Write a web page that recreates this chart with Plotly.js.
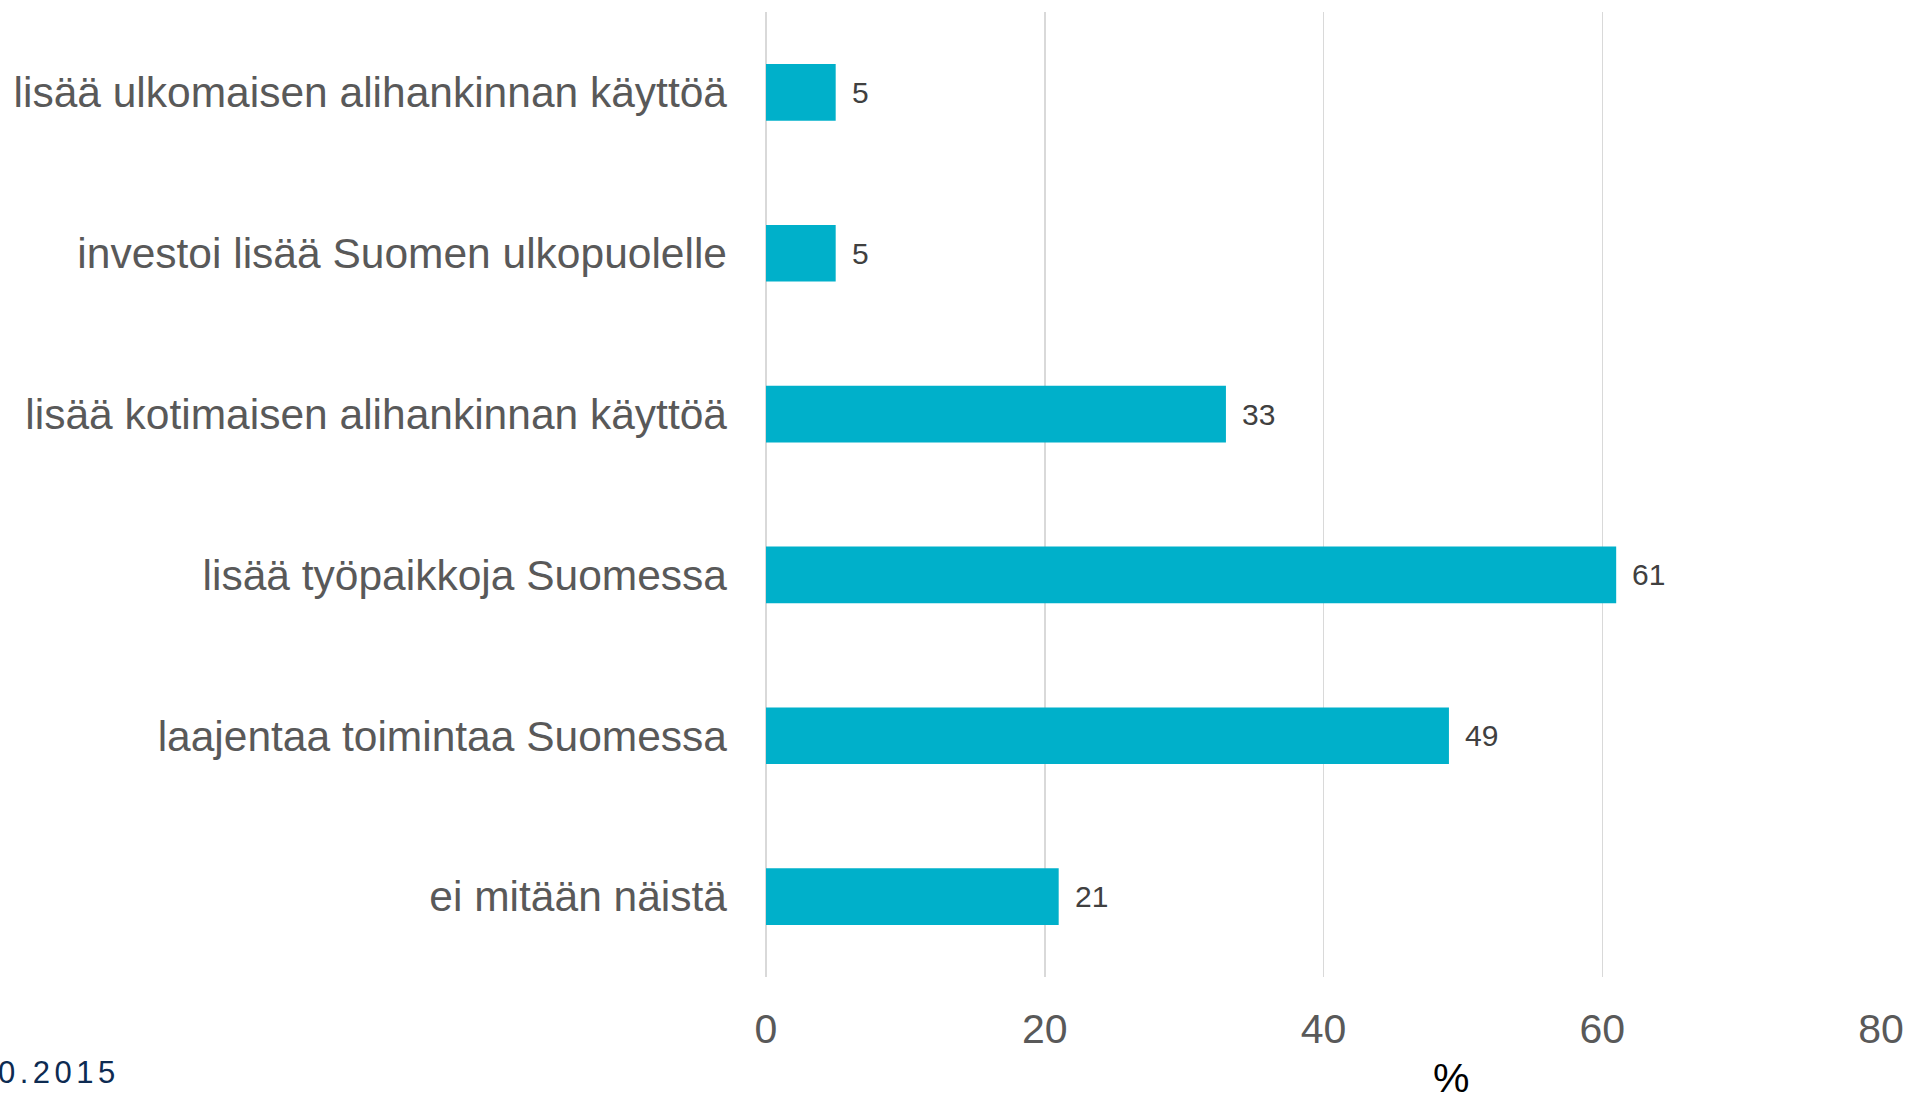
<!DOCTYPE html>
<html>
<head>
<meta charset="utf-8">
<script src="https://cdn.plot.ly/plotly-3.0.1.min.js"></script>
<style>html,body{margin:0;padding:0;background:#fff;}#chart{width:1907px;height:1097px;}</style>
</head>
<body>
<div id="chart"></div>
<script>
const categories = [
  "lisää ulkomaisen alihankinnan käyttöä",
  "investoi lisää Suomen ulkopuolelle",
  "lisää kotimaisen alihankinnan käyttöä",
  "lisää työpaikkoja Suomessa",
  "laajentaa toimintaa Suomessa",
  "ei mitään näistä"
];
const values = [5, 5, 33, 61, 49, 21];
const xTickValues = [0, 20, 40, 60, 80];
const axisTitle = "%";
const footerText = "0.2015";

const W = 1907, H = 1097;
const margin = {l: 766, r: 26, t: 12, b: 120};
const plotW = W - margin.l - margin.r;
const plotH = H - margin.t - margin.b;
const px2x = p => (p - margin.l) / plotW;
const px2y = p => (H - margin.b - p) / plotH;

const labelAnnotations = values.map((v, i) => ({
  x: v, y: categories[i], xref: 'x', yref: 'y',
  text: String(v), showarrow: false, xanchor: 'left', yanchor: 'middle',
  xshift: 14,
  font: {family: 'Liberation Sans, Arial, sans-serif', size: 30, color: '#404040'}
}));

const trace = {
  type: 'bar', orientation: 'h',
  x: values, y: categories,
  marker: {color: '#00B0CA'},
  hoverinfo: 'none'
};

const layout = {
  width: W, height: H,
  margin: margin,
  paper_bgcolor: '#ffffff', plot_bgcolor: '#ffffff',
  showlegend: false,
  bargap: 0.648,
  font: {family: 'Liberation Sans, Arial, sans-serif'},
  xaxis: {
    range: [0, 80], tickvals: xTickValues, ticktext: xTickValues.map(String),
    showgrid: true, gridcolor: '#D9D9D9', gridwidth: 1.5,
    zeroline: true, zerolinecolor: '#D9D9D9', zerolinewidth: 1.5,
    showline: false, ticks: '', ticklabelstandoff: 24,
    tickfont: {size: 41, color: '#595959'}, fixedrange: true
  },
  yaxis: {
    type: 'category', categoryorder: 'array', categoryarray: categories,
    autorange: 'reversed', showgrid: false, zeroline: false, showline: false,
    ticks: '', ticklabelstandoff: 38,
    tickfont: {size: 42.5, color: '#595959'}, fixedrange: true
  },
  annotations: labelAnnotations.concat([
    {xref: 'paper', yref: 'paper', x: px2x(1451), y: px2y(1078), text: axisTitle,
     showarrow: false, xanchor: 'center', yanchor: 'middle',
     font: {size: 41, color: '#000000'}},
    {xref: 'paper', yref: 'paper', x: px2x(-4), y: px2y(1072), text: footerText,
     showarrow: false, xanchor: 'left', yanchor: 'middle', align: 'left',
     font: {size: 31, color: '#0D2B52'}}
  ])
};

Plotly.newPlot('chart', [trace], layout, {displayModeBar: false, staticPlot: true}).then(gd => {
  const texts = gd.querySelectorAll('.annotation-text');
  texts.forEach(t => { if (t.textContent === footerText) t.style.letterSpacing = '4.5px'; });
});
</script>
</body>
</html>
